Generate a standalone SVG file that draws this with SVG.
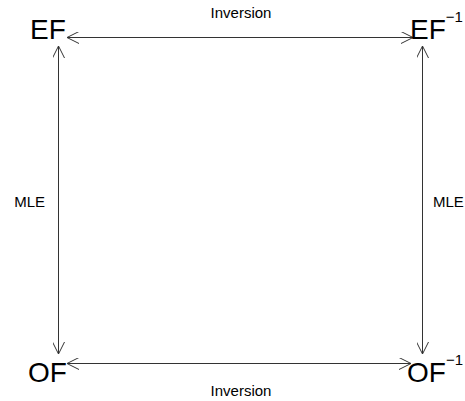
<svg xmlns="http://www.w3.org/2000/svg" width="465" height="401" viewBox="0 0 465 401">
<style>
.big{font-family:"Liberation Sans",Arial,sans-serif;font-size:28px;fill:#000}
.sup{font-family:"Liberation Sans",Arial,sans-serif;font-size:15px;fill:#000}
.lbl{font-family:"Liberation Sans",Arial,sans-serif;font-size:15px;fill:#000}
.edge{stroke:#333;stroke-width:1;fill:none;marker-start:url(#ah);marker-end:url(#ah)}
</style>
<defs>
<marker id="ah" viewBox="0 0 12 12" refX="12" refY="6" markerWidth="12" markerHeight="12" markerUnits="userSpaceOnUse" orient="auto-start-reverse">
<path d="M0,0 L12,6 L0,12" fill="none" stroke="#333" stroke-width="1"/>
</marker>
</defs>
<g id="connectors">
<line class="edge" x1="67" y1="37.5" x2="413" y2="37.5"/>
<line class="edge" x1="67" y1="363.5" x2="411" y2="363.5"/>
<line class="edge" x1="58.5" y1="46" x2="58.5" y2="354"/>
<line class="edge" x1="422.5" y1="46" x2="422.5" y2="354"/>
<text class="lbl" x="241" y="18" text-anchor="middle">Inversion</text>
<text class="lbl" x="241" y="396" text-anchor="middle">Inversion</text>
<text class="lbl" x="45" y="207" text-anchor="end">MLE</text>
<text class="lbl" x="433" y="207">MLE</text>
</g>
<g id="EF"><text class="big" x="30" y="39">EF</text></g>
<g id="EFinv"><text class="big" x="410" y="39">EF<tspan class="sup" dy="-17">−1</tspan></text></g>
<g id="OF"><text class="big" x="28" y="382">OF</text></g>
<g id="OFinv"><text class="big" x="407" y="382">OF<tspan class="sup" dy="-17">−1</tspan></text></g>
</svg>
